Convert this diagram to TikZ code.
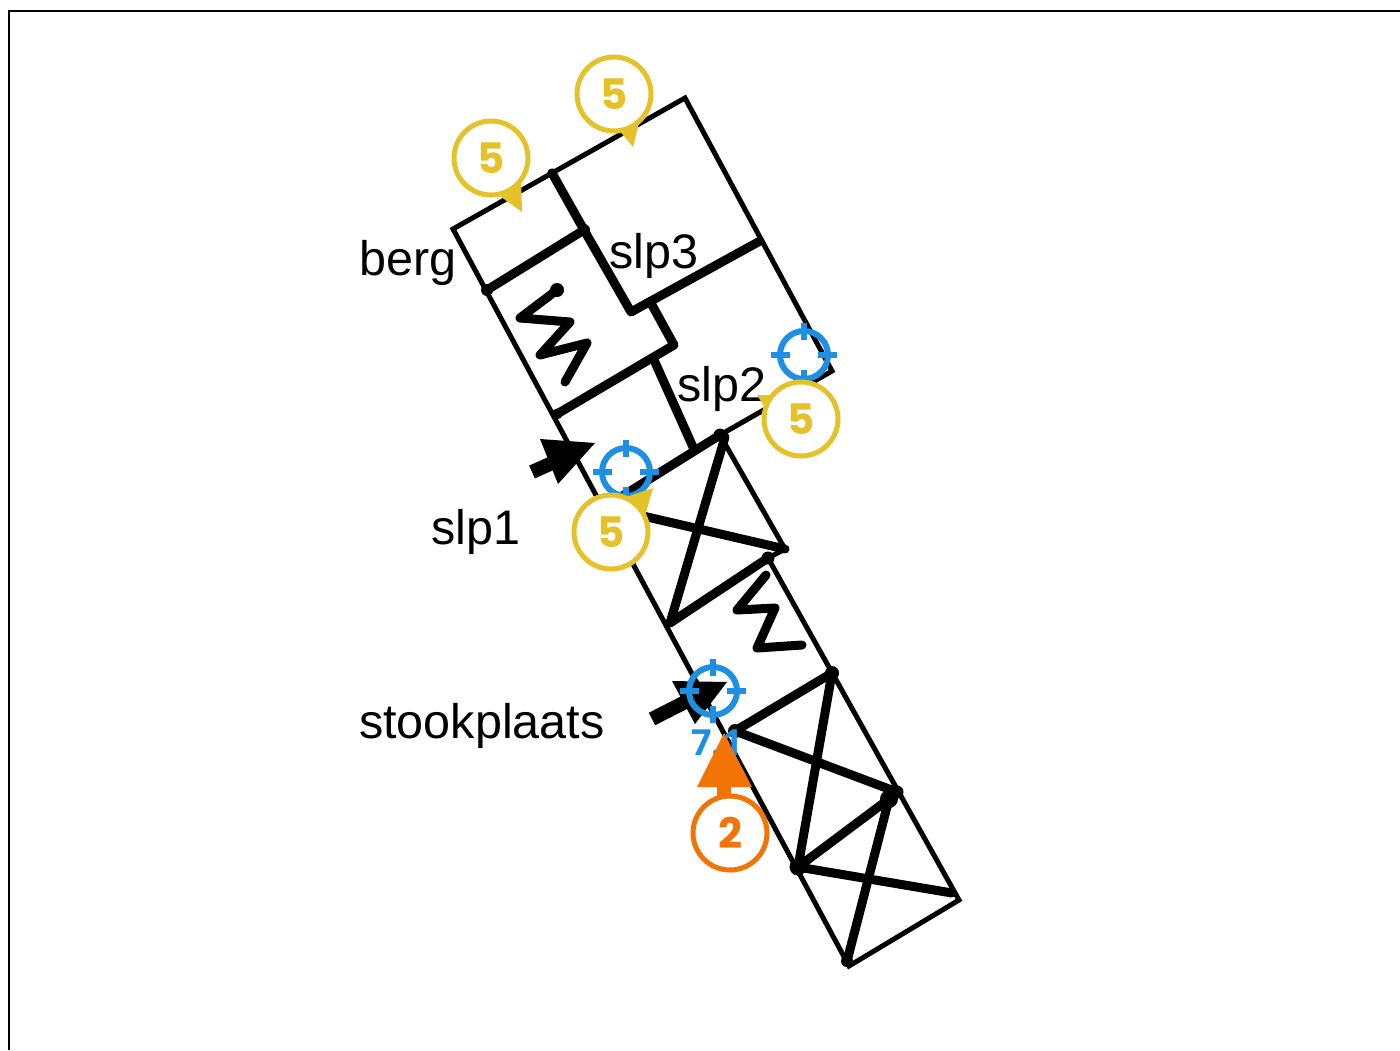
\documentclass[tikz,border=0pt]{standalone}
\usepackage{fontspec}
\setmainfont{Liberation Sans}
\newfontfamily\badgefont{Poppins}
\newfontfamily\valfont{Open Sans}
\definecolor{byel}{HTML}{E5C22A}
\definecolor{bora}{HTML}{F27405}
\definecolor{bblu}{HTML}{1E8FE1}
\tikzset{
  thinl/.style={line width=5pt,line cap=round,line join=miter},
  thickl/.style={line width=9pt,line cap=round,line join=round},
  spr/.style={line width=9pt,line cap=round,line join=round},
  lab/.style={font=\fontsize{48.5}{48.5}\selectfont,inner sep=0pt,anchor=base west},
  badgeyel/.style={circle,draw=byel,fill=white,line width=5pt,minimum size=74pt,inner sep=0pt,text=byel,font=\fontsize{42}{42}\badgefont\bfseries},
  badgeora/.style={badgeyel,draw=bora,text=bora},
}
\newcommand{\target}[2]{%
  \coordinate (#1) at #2;
  \draw[bblu,line width=6pt] (#1) circle (24pt);
  \draw[bblu,line width=6.5pt]
    ($(#1)+(0,-32)$) -- ($(#1)+(0,-15)$)
    ($(#1)+(0,32)$) -- ($(#1)+(0,15)$)
    ($(#1)+(-33,0)$) -- ($(#1)+(-14,0)$)
    ($(#1)+(33,0)$) -- ($(#1)+(14,0)$);}
\usetikzlibrary{calc}
\begin{document}
\begin{tikzpicture}[x=1pt,y=-1pt]
\useasboundingbox (0,0) rectangle (1400,1050);
\fill[white] (0,0) rectangle (1400,1050);
\draw[line width=2.5pt] (9,1050) -- (9,11) -- (1400,11);

% points
\coordinate (tl) at (453,229);
\coordinate (tr) at (685,98);
\coordinate (rc) at (832,371);
\coordinate (m1) at (720,435);
\coordinate (m1b) at (725,437);
\coordinate (m2) at (785,549);
\coordinate (m3) at (768,558);
\coordinate (br) at (959,900);
\coordinate (bb) at (849,966);
\coordinate (a1) at (552,173);
\coordinate (a2) at (584,230);
\coordinate (a3) at (487,290);
\coordinate (a4) at (631,312);
\coordinate (a5) at (760,241);
\coordinate (a6) at (652,305);
\coordinate (a7) at (674,345);
\coordinate (a8) at (557,414);
\coordinate (a9) at (654,360);
\coordinate (a10) at (693,447);
\coordinate (a11) at (600,510);
\coordinate (a11b) at (600,506);
\coordinate (a12) at (670,623);
\coordinate (c1) at (832,673);
\coordinate (c2) at (735,731);
\coordinate (c3) at (897,792);
\coordinate (c4) at (889,799);
\coordinate (c5) at (798,867);
\coordinate (c6) at (952,893);
\coordinate (c7) at (847,961);

% thin outline
\draw[thinl] (m1) -- (rc) -- (tr) -- (tl) -- (bb) -- (br) -- (m3) -- (m2) -- (m1);

% thick members
\draw[thickl] (a1) -- (a2) -- (a4) -- (a5);
\draw[thickl] (a3) -- (a2);
\draw[thickl] (a6) -- (a7) -- (a8);
\draw[thickl] (a9) -- (a10);
\draw[thickl] (m1) -- (a11);
\draw[thickl] (a11b) -- (m2);
\draw[thickl] (m1b) -- (a12) -- (m3);
\draw[thickl] (c2) -- (c1) -- (c5) -- (c4) -- (c7);
\draw[thickl] (c2) -- (c3);
\draw[thickl] (c5) -- (c6);

% springs
\draw[spr] (557,290) -- (520,318) -- (570,322) -- (540,355) -- (587,343) -- (565,382);
\draw[spr] (766,575) -- (737,610) -- (775,608) -- (757,648) -- (802,645);

% joints
\foreach \p/\r in {a3/6,a8/5.5,a2/6,m1/6.5,m3/6.5,c1/7,c2/7,c3/6.5,c4/9,c5/8.5,c7/6,a1/4.5}
  \fill (\p) circle (\r pt);
\fill (557,290) circle (7pt);

% black arrows
\draw[line width=14pt] (532,472) -- (570,455);
\fill (595,443) -- (540,439) -- (558,484) -- cycle;
\draw[line width=14pt] (652,719) -- (695,697);
\fill (727,682) -- (672,681) -- (695,724) -- cycle;

% labels
\node[lab] (berg) at (359,275) {berg};
\node[lab] (slp3) at (609,268) {slp3};
\node[lab] (slp2) at (677,401) {slp2};
\node[lab] (slp1) at (431,544) {slp1};
\node[lab] (stook) at (359,738) {stookplaats};

% value label
\node[inner sep=0pt,text=bblu,font=\fontsize{36}{36}\valfont\bfseries] (val) at (717,743) {7.1};

% targets
\target{t1}{(804,355)}
\target{t2}{(626,472)}
\target{t3}{(713,691)}

% orange load
\draw[bora,line width=14pt] (724,780) -- (724,800);
\fill[bora] (724,733) -- (697,787) -- (752,787) -- cycle;
\node[badgeora] (b5) at (730,833) {\raisebox{-1pt}{2}};

% yellow badges
\fill[byel] (613,123) -- (633,147) -- (641,115) -- cycle;
\node[badgeyel] (b1) at (614,94) {\raisebox{-1pt}{5}};
\fill[byel] (497,194) -- (522,212) -- (521,175) -- cycle;
\node[badgeyel] (b2) at (491,158) {\raisebox{-1pt}{5}};
\fill[byel] (785,395) -- (757,395) -- (771,417) -- cycle;
\node[badgeyel] (b3) at (801,419) {\raisebox{-1pt}{5}};
\fill[byel] (620,499) -- (653,488) -- (641,530) -- cycle;
\node[badgeyel] (b4) at (611,532) {\raisebox{-1pt}{5}};
\end{tikzpicture}
\end{document}
